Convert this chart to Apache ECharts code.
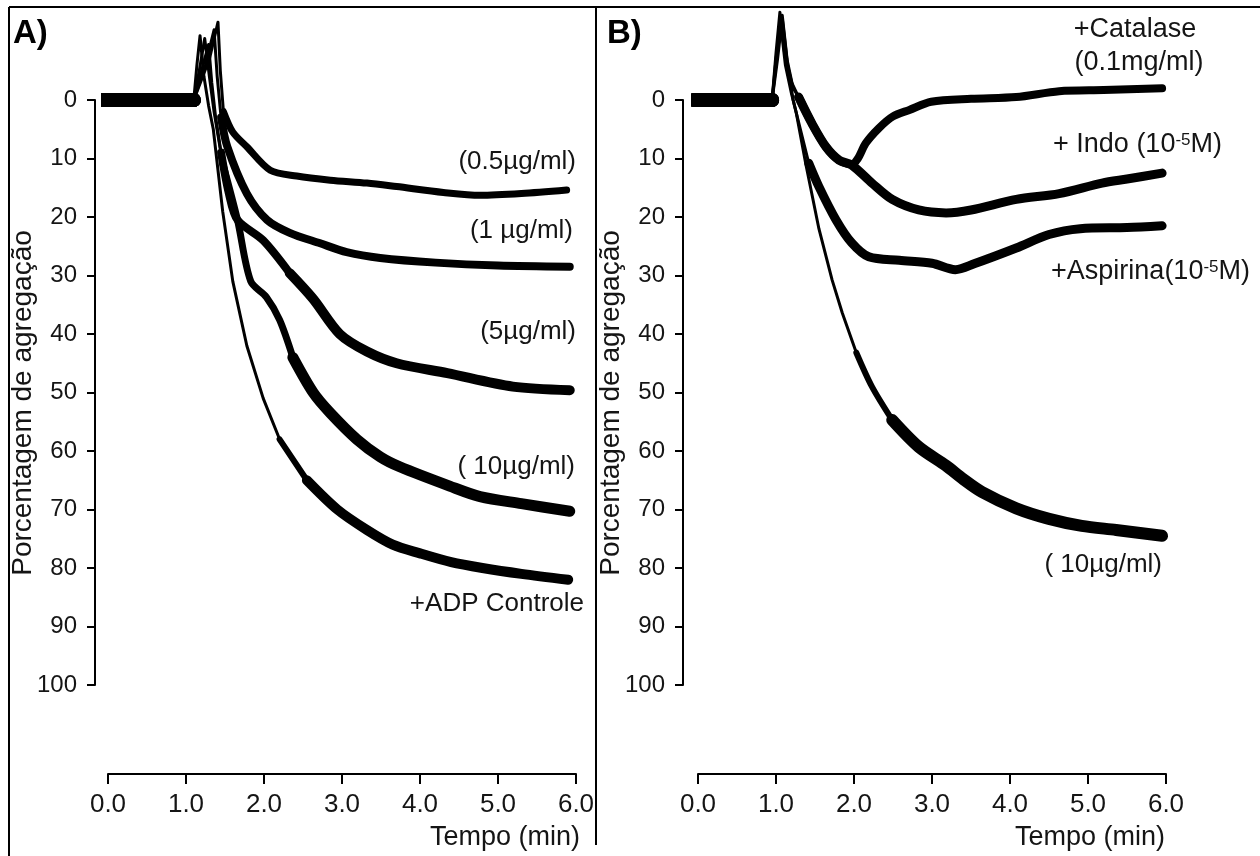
<!DOCTYPE html>
<html>
<head>
<meta charset="utf-8">
<script src="https://cdn.jsdelivr.net/npm/echarts@6/dist/echarts.min.js"></script>
<style>
html, body { margin: 0; padding: 0; background: #fff; }
#main { width: 1260px; height: 856px; }
</style>
</head>
<body>
<div id="main"></div>
<script>
// panel A: ADP doses, [tempo (min), % agregacao]
const aCtrl = [[-0.06,0],[0.6,0],[1.1,0],[1.14,-6],[1.18,-11],[1.23,-4],[1.29,1],[1.35,5],[1.47,19],[1.6,31],[1.78,42],[1.99,51],[2.2,58],[2.55,65],[2.94,70],[3.32,73.5],[3.65,76],[4.0,77.5],[4.4,79],[4.8,80],[5.3,81],[5.9,82]];
const a10 = [[-0.06,0],[0.6,0],[1.1,0],[1.17,-5],[1.24,-10.5],[1.3,-4],[1.36,2],[1.47,10.8],[1.66,20.5],[1.83,31],[2.03,33.7],[2.2,37.6],[2.37,44],[2.63,50],[2.85,53.5],[3.19,58],[3.49,61],[3.74,62.7],[4.38,66],[4.77,67.8],[5.3,69],[5.92,70.3]];
const a5 = [[-0.06,0],[0.6,0],[1.1,0],[1.2,-5],[1.29,-9.5],[1.33,-3],[1.38,3],[1.45,9],[1.55,16],[1.66,20.5],[1.99,24],[2.33,29.6],[2.63,34],[2.97,40],[3.32,43],[3.7,45],[4.35,46.7],[5.19,49],[5.92,49.6]];
const a1 = [[-0.06,0],[0.6,0],[1.1,0],[1.25,-6],[1.36,-12],[1.4,-4],[1.45,3],[1.53,8],[1.78,16],[2.04,20.5],[2.33,22.7],[2.72,24.5],[3.06,26],[3.49,27],[4.2,27.8],[5.0,28.3],[5.92,28.5]];
const a05 = [[-0.06,0],[0.6,0],[1.1,0],[1.3,-7],[1.41,-13.3],[1.44,-5],[1.48,2],[1.6,5.5],[1.78,8],[2.08,12],[2.42,13],[2.85,13.7],[3.32,14.2],[3.7,14.8],[4.3,15.8],[4.77,16.3],[5.3,16],[5.88,15.4]];

// panel B: inhibitors
const bCat = [[-0.05,0],[0.5,0],[0.95,0],[1.0,-8],[1.05,-15],[1.11,-8],[1.2,-3],[1.29,-0.5],[1.46,4],[1.64,8],[1.81,10.3],[1.97,11],[2.05,10],[2.15,7.4],[2.32,4.8],[2.5,2.8],[2.71,1.7],[2.99,0.3],[3.5,-0.2],[4.08,-0.5],[4.63,-1.5],[5.2,-1.7],[5.95,-2]];
const bIndo = [[-0.05,0],[0.5,0],[0.95,0],[1.02,-7],[1.08,-14],[1.14,-7],[1.22,-2],[1.29,-0.5],[1.46,4],[1.64,8],[1.81,10.3],[1.97,11.1],[2.23,14.2],[2.49,17],[2.83,18.8],[3.18,19.3],[3.5,18.8],[4.08,17],[4.63,16],[5.18,14.2],[5.5,13.5],[5.95,12.5]];
const bAsp = [[-0.05,0],[0.5,0],[0.95,0],[1.0,-6],[1.06,-13],[1.12,-6],[1.2,-1],[1.26,2.2],[1.42,10.8],[1.55,14.8],[1.77,20.5],[1.97,24.4],[2.19,26.8],[2.58,27.4],[3.0,27.9],[3.3,29],[3.54,28],[4.08,25.3],[4.5,23],[4.9,22],[5.5,21.8],[5.95,21.5]];
const b10 = [[-0.05,0],[0.5,0],[0.95,0],[1.0,-7],[1.08,-14.5],[1.15,-6],[1.22,0],[1.26,2.2],[1.38,10.8],[1.55,22],[1.72,30.8],[1.85,36.4],[2.03,43.2],[2.23,49],[2.49,54.7],[2.83,59.3],[3.18,62.5],[3.4,64.8],[3.64,67],[4.08,69.8],[4.5,71.6],[4.92,72.8],[5.36,73.5],[5.95,74.5]];

const font = 'Liberation Sans, Arial, sans-serif';
const ink = '#151515';

// line width from each time on: baseline band, thin spike, noisy tail
const tracesA = [
    {data: aCtrl, steps: [[-1, 14], [1.1, 3], [2.2, 6], [2.9, 10]]},
    {data: a10, steps: [[-1, 14], [1.1, 3], [1.6, 7], [2.4, 11]]},
    {data: a5, steps: [[-1, 14], [1.1, 3], [1.45, 8], [2.6, 10]]},
    {data: a1, steps: [[-1, 14], [1.1, 3], [1.5, 8]]},
    {data: a05, steps: [[-1, 14], [1.1, 3], [1.48, 7]]}
];
const tracesB = [
    {data: bCat, steps: [[-1, 14], [0.95, 3], [1.29, 8]]},
    {data: bIndo, steps: [[-1, 14], [0.95, 3], [1.29, 9]]},
    {data: bAsp, steps: [[-1, 14], [0.95, 3], [1.42, 9]]},
    {data: b10, steps: [[-1, 14], [0.95, 3], [2.03, 6], [2.6, 12]]}
];

function lastAt(data, t) {
    let idx = 0;
    data.forEach((p, i) => { if (p[0] <= t) idx = i; });
    return idx;
}

function traceSeries(tr, gi) {
    return tr.steps.map((st, k) => {
        let i0 = lastAt(tr.data, st[0]);
        let i1 = k + 1 < tr.steps.length ? lastAt(tr.data, tr.steps[k + 1][0]) : tr.data.length - 1;
        return {
            type: 'line',
            xAxisIndex: gi,
            yAxisIndex: gi,
            data: tr.data.slice(i0, i1 + 1),
            symbol: 'none',
            clip: false,
            silent: true,
            smooth: k >= 2 ? 0.3 : false,
            lineStyle: {color: '#000', width: st[1], cap: 'round', join: 'round'}
        };
    });
}

function xAxis(gi) {
    return {
        gridIndex: gi, type: 'value', min: 0, max: 6, interval: 1,
        position: 'bottom', offset: 89,
        axisLine: {onZero: false, lineStyle: {color: '#000', width: 2}},
        axisTick: {length: 10, lineStyle: {color: '#000', width: 2}},
        axisLabel: {fontSize: 26, fontFamily: font, color: ink, margin: 18,
            formatter: v => v.toFixed(1)},
        splitLine: {show: false}
    };
}

function yAxis(gi, off) {
    return {
        gridIndex: gi, type: 'value', inverse: true, min: 0, max: 100, interval: 10,
        position: 'left', offset: off,
        axisLine: {onZero: false, lineStyle: {color: '#000', width: 2}},
        axisTick: {length: 8, lineStyle: {color: '#000', width: 2}},
        axisLabel: {fontSize: 24, fontFamily: font, color: ink, margin: 18},
        splitLine: {show: false}
    };
}

function label(text, x, y, align, size, extra) {
    return Object.assign({
        type: 'text', x: x, y: y, silent: true,
        style: {
            text: text, fill: ink, fontSize: size, fontFamily: font,
            align: align, verticalAlign: 'middle',
            rich: {sup: {fontSize: 17, fontFamily: font, fill: ink, padding: [0, 0, 10, 0]}}
        }
    }, extra || {});
}

function panelTag(text, x) {
    return {type: 'text', x: x, y: 34, silent: true,
        style: {text: text, fill: '#000', fontSize: 33, fontWeight: 'bold', fontFamily: font,
            align: 'left', verticalAlign: 'middle'}};
}

function rule(x1, y1, x2, y2) {
    return {type: 'line', silent: true, shape: {x1: x1, y1: y1, x2: x2, y2: y2},
        style: {stroke: '#000', lineWidth: 2}};
}

let chart = echarts.init(document.getElementById('main'));
let option = {
    animation: false,
    backgroundColor: '#fff',
    grid: [
        {left: 108, top: 100, width: 468, height: 585, outerBoundsMode: 'none'},
        {left: 698, top: 100, width: 468, height: 585, outerBoundsMode: 'none'}
    ],
    xAxis: [xAxis(0), xAxis(1)],
    yAxis: [yAxis(0, 13), yAxis(1, 15)],
    series: tracesA.flatMap(t => traceSeries(t, 0)).concat(tracesB.flatMap(t => traceSeries(t, 1))),
    graphic: [
        rule(9, 7, 1260, 7),
        rule(9, 7, 9, 856),
        rule(596, 7, 596, 845),
        panelTag('A)', 13),
        panelTag('B)', 607),
        label('(0.5µg/ml)', 576, 162, 'right', 26),
        label('(1 µg/ml)', 573, 231, 'right', 26),
        label('(5µg/ml)', 576, 332, 'right', 26),
        label('( 10µg/ml)', 575, 467, 'right', 26),
        label('+ADP Controle', 584, 604, 'right', 26),
        label('Tempo (min)', 580, 838, 'right', 27),
        label('Tempo (min)', 1165, 838, 'right', 27),
        label('Porcentagem de agregação', 23, 403, 'center', 28, {rotation: Math.PI / 2}),
        label('Porcentagem de agregação', 611, 403, 'center', 28, {rotation: Math.PI / 2}),
        label('+Catalase', 1135, 30, 'center', 27),
        label('(0.1mg/ml)', 1139, 63, 'center', 27),
        label('+ Indo (10{sup|-5}M)', 1222, 145, 'right', 27),
        label('+Aspirina(10{sup|-5}M)', 1250, 272, 'right', 27),
        label('( 10µg/ml)', 1162, 565, 'right', 26)
    ]
};
chart.setOption(option);
</script>
</body>
</html>
